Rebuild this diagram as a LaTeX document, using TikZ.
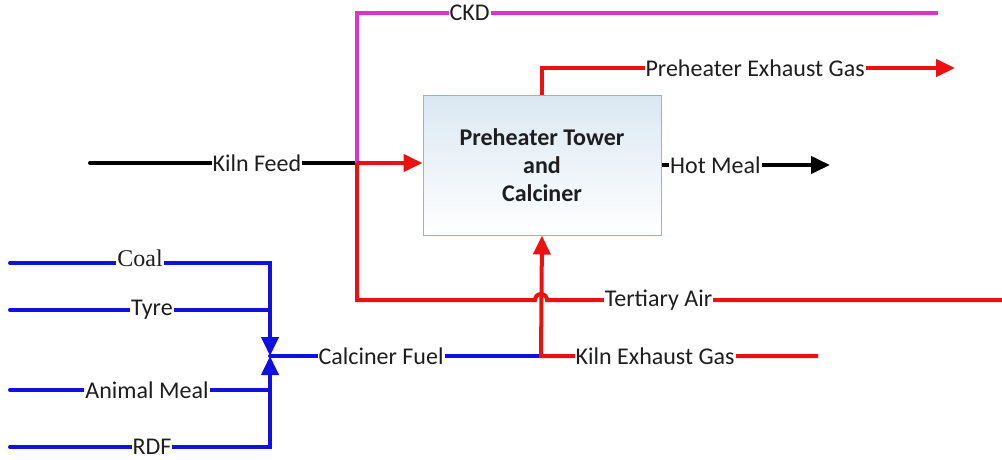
\documentclass[tikz,border=0pt]{standalone}
\usepackage{fontspec}
\setmainfont{Carlito}
\newfontfamily\coalfont{Liberation Serif}
\usepackage{xcolor}
\usetikzlibrary{arrows.meta}
\definecolor{gasred}{RGB}{236,16,16}
\definecolor{fuelblue}{RGB}{16,16,224}
\definecolor{ckdpink}{RGB}{224,48,208}
\definecolor{boxedge}{RGB}{150,180,196}
\definecolor{boxtop}{RGB}{218,232,242}
\definecolor{inktext}{RGB}{30,30,30}

\begin{document}
\begin{tikzpicture}[x=1pt, y=-1pt,
  every node/.style={font=\fontsize{24}{28}\selectfont, text=inktext},
  flow/.style={line width=4pt},
  lbl/.style={fill=white, inner sep=1pt},
  box/.style={rectangle, draw=boxedge, line width=1pt, top color=boxtop,
    bottom color=white, minimum width=238pt, minimum height=140pt,
    align=center, font=\fontsize{24}{28}\selectfont\bfseries},
  >={Triangle[length=19pt,width=17pt]},
]
  \useasboundingbox (0,0) rectangle (1002,459);

  \node[box] (tower) at (542,165) {Preheater Tower\\and\\Calciner};

  \coordinate (feedin) at (90,163);
  \coordinate (split) at (357,163);
  \coordinate (ckdend) at (938,13);
  \coordinate (exhout) at (955,68);
  \coordinate (mealout) at (830,165);
  \coordinate (airin) at (1002,300);
  \coordinate (hop) at (547,300);
  \coordinate (kilnin) at (818,356);
  \coordinate (fuelin) at (541,356);
  \coordinate (mix) at (270,356);
  \coordinate (coalin) at (10,263);
  \coordinate (tyrein) at (10,310);
  \coordinate (meatin) at (10,390);
  \coordinate (rdfin) at (10,447);

  % kiln feed and CKD
  \draw[flow, line cap=round] (feedin) -- node[lbl, pos=0.625] {Kiln Feed} (split);
  \draw[flow, ckdpink] (split) |- node[lbl, pos=0.597] {CKD} (ckdend);
  \draw[flow, gasred, ->] (split) -- (split -| tower.west);

  % fuels
  \draw[flow, fuelblue, line cap=round] (mix) -- node[lbl, pos=0.41] {Calciner Fuel} (fuelin);
  \draw[flow, fuelblue, line cap=round, ->] (coalin) -| node[lbl, pos=0.25, yshift=5pt, inner ysep=4pt] {\coalfont Coal} (mix);
  \draw[flow, fuelblue, line cap=round] (tyrein) -- node[lbl, pos=0.546] {Tyre} (tyrein -| mix);
  \draw[flow, fuelblue, line cap=round] (meatin) -- node[lbl, pos=0.527] {Animal Meal} (meatin -| mix);
  \draw[flow, fuelblue, line cap=round, ->] (rdfin) -| node[lbl, pos=0.273] {RDF} (mix);

  % gases
  \draw[flow, gasred] (airin) -- node[lbl, pos=0.755] {Tertiary Air} (hop)
    arc (0:-180:6) -- (split |- airin) -- (split);
  \draw[flow, gasred, ->] (kilnin) -- node[lbl, pos=0.588] {Kiln Exhaust Gas} (fuelin) -- (tower.south);
  \draw[flow, gasred, ->] (tower.north) |- node[lbl, pos=0.758] {Preheater Exhaust Gas} (exhout);

  % hot meal
  \draw[flow, ->] (tower.east) -- node[lbl, pos=0.32] {Hot Meal} (mealout);
\end{tikzpicture}
\end{document}
